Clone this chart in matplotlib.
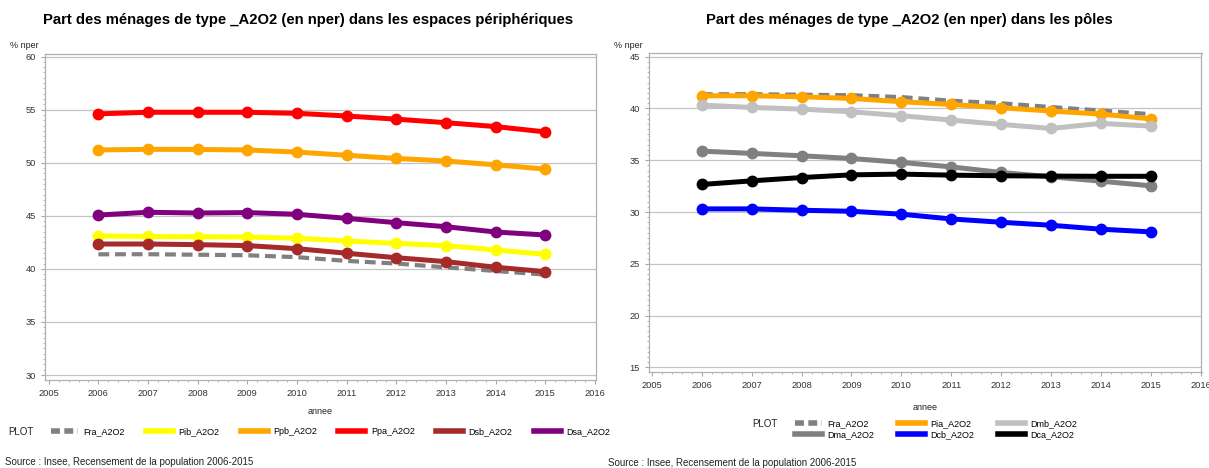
import matplotlib
matplotlib.use("Agg")
import matplotlib.pyplot as plt
from matplotlib.ticker import MultipleLocator
from matplotlib.lines import Line2D

plt.rcParams['font.family'] = ['Liberation Sans', 'DejaVu Sans']

annees = [2006, 2007, 2008, 2009, 2010, 2011, 2012, 2013, 2014, 2015]

# France entière (même série dans les deux graphiques)
fra = [41.37, 41.38, 41.33, 41.28, 41.10, 40.75, 40.50, 40.14, 39.80, 39.45]

# espaces périphériques
pib = [43.10, 43.05, 43.03, 43.00, 42.88, 42.63, 42.40, 42.19, 41.78, 41.37]
ppb = [51.20, 51.26, 51.25, 51.20, 51.00, 50.70, 50.40, 50.16, 49.80, 49.40]
ppa = [54.60, 54.75, 54.75, 54.75, 54.65, 54.40, 54.10, 53.77, 53.40, 52.90]
dsb = [42.34, 42.34, 42.28, 42.19, 41.90, 41.47, 41.05, 40.68, 40.15, 39.74]
dsa = [45.07, 45.33, 45.26, 45.30, 45.14, 44.76, 44.35, 43.97, 43.47, 43.19]

# pôles
pia = [41.23, 41.23, 41.13, 40.97, 40.65, 40.39, 40.07, 39.75, 39.46, 39.00]
dmb = [40.33, 40.10, 39.94, 39.68, 39.30, 38.88, 38.46, 38.07, 38.56, 38.30]
dma = [35.88, 35.66, 35.43, 35.17, 34.79, 34.36, 33.82, 33.40, 32.98, 32.53]
dcb = [30.30, 30.30, 30.17, 30.07, 29.79, 29.33, 29.01, 28.72, 28.34, 28.08]
dca = [32.66, 33.01, 33.33, 33.59, 33.66, 33.56, 33.50, 33.47, 33.45, 33.45]

series_per = [
    ('Fra_A2O2', fra, '#808080'),
    ('Pib_A2O2', pib, '#ffff00'),
    ('Ppb_A2O2', ppb, '#ffa500'),
    ('Ppa_A2O2', ppa, '#ff0000'),
    ('Dsb_A2O2', dsb, '#a52a2a'),
    ('Dsa_A2O2', dsa, '#800080'),
]
series_pol = [
    ('Fra_A2O2', fra, '#808080'),
    ('Pia_A2O2', pia, '#ffa500'),
    ('Dmb_A2O2', dmb, '#c0c0c0'),
    ('Dma_A2O2', dma, '#808080'),
    ('Dcb_A2O2', dcb, '#0000ff'),
    ('Dca_A2O2', dca, '#000000'),
]

TIRETS = (0, (2.6, 1.4))


def tracer(ax, series, ymin, ymax, ybas, yhaut, xgauche):
    for nom, vals, coul in series:
        if nom == 'Fra_A2O2':
            ax.plot(annees, vals, color=coul, lw=3.0, ls=TIRETS, zorder=2)
        else:
            ax.plot(annees, vals, color=coul, lw=3.6, marker='o', ms=7.5, zorder=3)
    ax.set_xlim(xgauche, 2016.02)
    ax.set_ylim(ybas, yhaut)
    ax.set_yticks(range(ymin, ymax + 1, 5))
    ax.set_xticks(range(2005, 2017))
    ax.yaxis.set_minor_locator(MultipleLocator(0.5))
    ax.xaxis.set_minor_locator(MultipleLocator(0.2))
    ax.grid(axis='y', which='major', color='#c4c4c4', lw=0.9)
    ax.set_axisbelow(True)
    for s in ax.spines.values():
        s.set_color('#b0b0b0')
        s.set_linewidth(0.9)
    ax.tick_params(which='both', color='#a8a8a8', labelcolor='#333333',
                   labelsize=6.7, direction='out')
    ax.tick_params(which='major', length=3.2, pad=3.5)
    ax.tick_params(which='minor', length=1.6)


def poignee(nom, coul):
    # symbole de légende : trait épais sans marqueur
    if nom == 'Fra_A2O2':
        return Line2D([], [], color=coul, lw=4.0, ls=(0, (1.6, 0.8)))
    return Line2D([], [], color=coul, lw=4.0)


fig = plt.figure(figsize=(12.09, 4.68), dpi=100)
W, H = 1209, 468

ax1 = fig.add_axes([45 / W, 1 - 380 / H, 551 / W, 326 / H])
tracer(ax1, series_per, 30, 60, 29.53, 60.24, 2004.925)

ax2 = fig.add_axes([649 / W, 1 - 371.7 / H, 552.5 / W, 318.4 / H])
tracer(ax2, series_pol, 15, 45, 14.575, 45.33, 2004.94)

# titres
fig.text(308.5 / W, 1 - 20 / H,
         'Part des ménages de type _A2O2 (en nper) dans les espaces périphériques',
         ha='center', va='center', fontsize=10.7, fontweight='bold')
fig.text(909.5 / W, 1 - 20 / H,
         'Part des ménages de type _A2O2 (en nper) dans les pôles',
         ha='center', va='center', fontsize=10.6, fontweight='bold')

fig.text(10 / W, 1 - 45.5 / H, '% nper', fontsize=6.5, va='center', color='#222222')
fig.text(614 / W, 1 - 45.5 / H, '% nper', fontsize=6.5, va='center', color='#222222')

fig.text(320 / W, 1 - 411 / H, 'annee', fontsize=6.5, ha='center', va='center',
         color='#222222')
fig.text(925 / W, 1 - 408 / H, 'annee', fontsize=6.5, ha='center', va='center',
         color='#222222')

# légendes
fig.text(8 / W, 1 - 432 / H, 'PLOT', fontsize=7, va='center', color='#222222')
fig.legend([poignee(n, c) for n, _, c in series_per], [n for n, _, _ in series_per],
           loc='center left', bbox_to_anchor=(51 / W, 1 - 432 / H), ncol=6,
           frameon=False, fontsize=6.5, handlelength=3.0, handletextpad=0.6,
           columnspacing=2.35, borderpad=0, borderaxespad=0)

fig.text(752 / W, 1 - 424 / H, 'PLOT', fontsize=7, va='center', color='#222222')
couleurs_pol = {n: c for n, _, c in series_pol}
ordre = ['Fra_A2O2', 'Dma_A2O2', 'Pia_A2O2', 'Dcb_A2O2', 'Dmb_A2O2', 'Dca_A2O2']
fig.legend([poignee(n, couleurs_pol[n]) for n in ordre], ordre,
           loc='center left', bbox_to_anchor=(795 / W, 1 - 429.5 / H), ncol=3,
           frameon=False, fontsize=6.5, handlelength=3.0, handletextpad=0.6,
           columnspacing=2.6, borderpad=0, borderaxespad=0, labelspacing=0.25)

fig.text(5 / W, 1 - 462 / H, 'Source : Insee, Recensement de la population 2006-2015',
         fontsize=7, va='center', color='#222222')
fig.text(608 / W, 1 - 463 / H, 'Source : Insee, Recensement de la population 2006-2015',
         fontsize=7, va='center', color='#222222')

fig.savefig('out.png', dpi=100)
